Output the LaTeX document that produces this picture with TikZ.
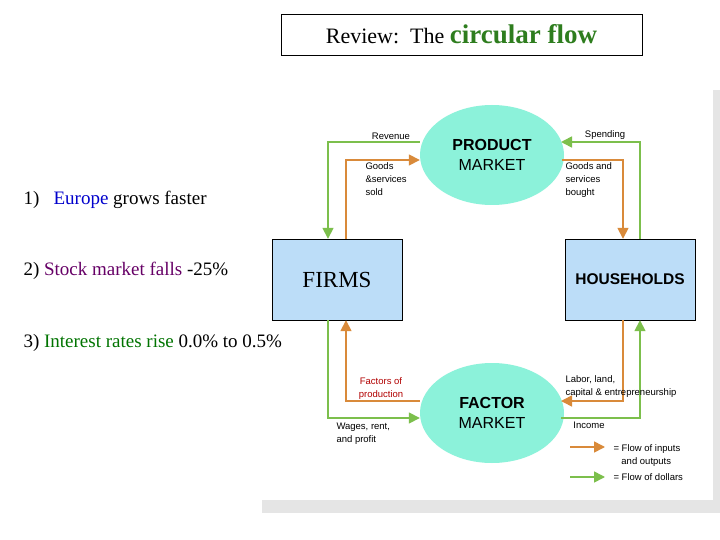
\documentclass[tikz,border=0pt]{standalone}
\usepackage{fontspec}
\setmainfont{Liberation Serif}
\setsansfont{Liberation Sans}
\usetikzlibrary{arrows.meta,shapes.geometric}
\definecolor{flowgreen}{HTML}{7CBF4C}
\definecolor{floworange}{HTML}{D98A3A}
\definecolor{marketfill}{HTML}{8CF2DA}
\definecolor{boxfill}{HTML}{BCDDF8}
\definecolor{titlegreen}{HTML}{2E7D1E}
\tikzset{
  market/.style={ellipse, fill=marketfill, minimum width=144, minimum height=100, align=center, font=\sffamily\fontsize{16}{20}\selectfont},
  agent/.style={draw, fill=boxfill, minimum width=130, minimum height=81, inner sep=0},
  dollars/.style={flowgreen, line width=1.6, -{Triangle[length=11,width=11]}},
  goods/.style={floworange, line width=1.6, -{Triangle[length=11,width=11]}},
  small/.style={font=\sffamily\fontsize{9.5}{13}\selectfont, align=left},
  point/.style={font=\fontsize{19}{21}\selectfont, anchor=west}
}
\begin{document}
\begin{tikzpicture}[x=1pt, y=-1pt]
    \useasboundingbox (0,0) rectangle (720,540);
    % panel
    \fill[black!10] (262,90) rectangle (720,513);
    \fill[white] (255,85) rectangle (713,500);
    % title
    \node (title) [draw, minimum width=361, minimum height=41, inner sep=0] at (461.5,34.5)
        {\fontsize{22}{24}\selectfont Review:\ \ The \textcolor{titlegreen}{\fontsize{27}{28}\selectfont\bfseries circular flow}};
    % markets and agents
    \node (product) [market] at (492,155) {\textbf{PRODUCT}\\MARKET};
    \node (factor) [market] at (492,413) {\textbf{FACTOR}\\MARKET};
    \node (firms) [agent] at (337,279.5) {\fontsize{23}{25}\selectfont FIRMS};
    \node (households) [agent] at (630,279.5) {\fontsize{15.5}{17}\selectfont\sffamily\bfseries HOUSEHOLDS};
    % product market side
    \draw[dollars] (product.180 |- 0,142) -- (328,142) -- (firms.north -| 328,0);
    \draw[goods] (firms.north -| 346,0) -- (346,160) -- (product.west |- 0,160);
    \draw[dollars] (households.north -| 640,0) -- (640,142) -- (561,142);
    \draw[goods] (562,160) -- (623,160) -- (households.north -| 623,0);
    % factor market side
    \draw[goods] (factor.west |- 0,401) -- (346,401) -- (firms.south -| 346,0);
    \draw[dollars] (firms.south -| 328,0) -- (328,418) -- (factor.west |- 0,418);
    \draw[goods] (households.south -| 623,0) -- (623,401) -- (561,401);
    \draw[dollars] (561,418) -- (640,418) -- (households.south -| 640,0);
    % labels
    \node (revenue) [small] at (391,136) {Revenue};
    \node (sold) [small, anchor=north west] at (362,159) {Goods\\\&services\\sold};
    \node (spending) [small] at (605,135) {Spending};
    \node (bought) [small, anchor=north west] at (562,159) {Goods and\\services\\bought};
    \node (factors) [small, align=center, text=red!70!black] at (381,388.5) {Factors of\\production};
    \node (wages) [small, anchor=north west] at (333,419) {Wages, rent,\\and profit};
    \node (labor) [small, anchor=north west] at (562,372) {Labor, land,\\capital \& entrepreneurship};
    \node (income) [small] at (589,425) {Income};
    % legend
    \coordinate (ka) at (570,447);
    \coordinate (kb) at (605,447);
    \coordinate (kc) at (570,477);
    \coordinate (kd) at (605,477);
    \draw[goods] (ka) -- (kb);
    \draw[dollars] (kc) -- (kd);
    \node (keyinputs) [small, anchor=west] at (610,456) {= Flow of inputs\\\ \ \ and outputs};
    \node (keydollars) [small, anchor=west] at (610,477) {= Flow of dollars};
    % points
    \node (europe) [point] at (20,200) {1)\ \ \ \textcolor{blue!80!black}{Europe} grows faster};
    \node (stock) [point] at (20,271) {2) \textcolor{violet!80!black}{Stock market falls} -25\%};
    \node (rates) [point] at (20,343) {3) \textcolor{green!45!black}{Interest rates rise} 0.0\% to 0.5\%};
\end{tikzpicture}
\end{document}
